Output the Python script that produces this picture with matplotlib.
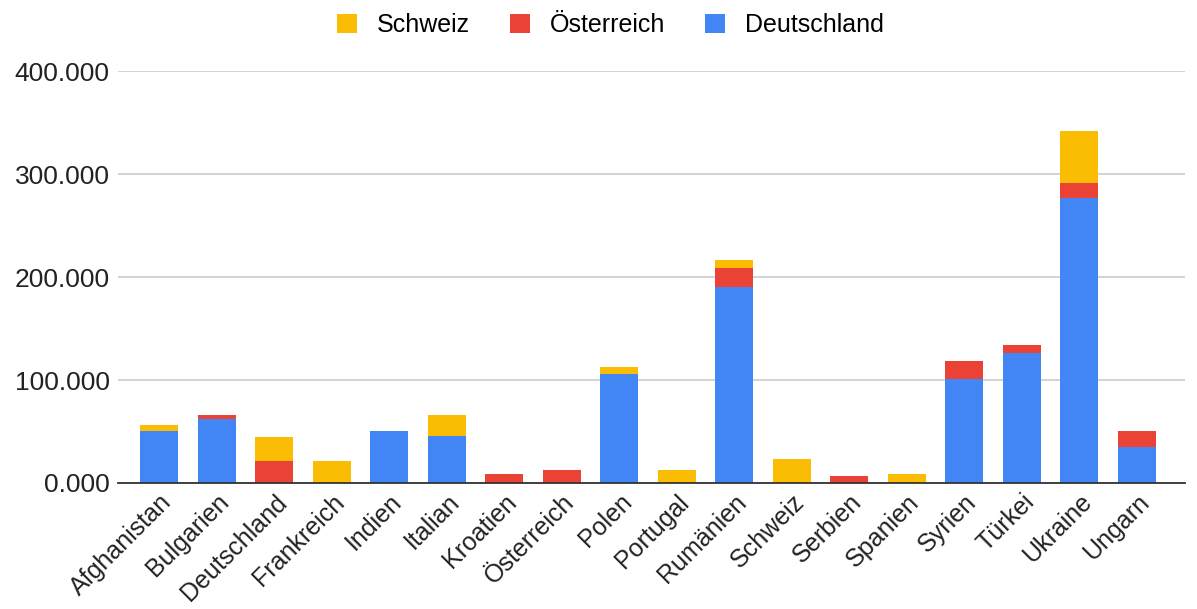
import matplotlib
matplotlib.use("Agg")
import matplotlib.pyplot as plt
import numpy as np
from matplotlib.patches import Patch

plt.rcParams["font.family"] = ["Liberation Sans", "DejaVu Sans"]

# Daten (in Tausend)
laender = [
    "Afghanistan", "Bulgarien", "Deutschland", "Frankreich", "Indien",
    "Italian", "Kroatien", "Österreich", "Polen", "Portugal", "Rumänien",
    "Schweiz", "Serbien", "Spanien", "Syrien", "Türkei", "Ukraine", "Ungarn",
]
deutschland = [50, 62, 0, 0, 50, 46, 0, 0, 106, 0, 190, 0, 0, 0, 101, 126, 277, 35]
oesterreich = [0, 4, 21, 0, 0, 0, 9, 13, 0, 0, 19, 0, 7, 0, 17, 8, 14, 15]
schweiz = [6, 0, 24, 21, 0, 20, 0, 0, 7, 13, 8, 23, 0, 9, 0, 0, 51, 0]

farbe_d = "#4285F4"
farbe_o = "#EA4335"
farbe_s = "#FBBC04"

d = np.array(deutschland) * 1000
o = np.array(oesterreich) * 1000
s = np.array(schweiz) * 1000
x = np.arange(len(laender))

fig = plt.figure(figsize=(11.97, 6.09), dpi=100)
ax = fig.add_axes([0.0986, 0.207, 0.891, 0.676])

breite = 0.66
ax.bar(x, d, width=breite, color=farbe_d, zorder=3)
ax.bar(x, o, width=breite, bottom=d, color=farbe_o, zorder=3)
ax.bar(x, s, width=breite, bottom=d + o, color=farbe_s, zorder=3)

ax.set_ylim(0, 400000)
ax.set_xlim(-0.72, len(laender) - 1 + 0.83)
ax.set_yticks([0, 100000, 200000, 300000, 400000])
ax.set_yticklabels(["0.000", "100.000", "200.000", "300.000", "400.000"])
ax.yaxis.grid(True, color="#cccccc", linewidth=1.2, zorder=0)
ax.set_axisbelow(True)

for side in ["top", "right", "left"]:
    ax.spines[side].set_visible(False)
ax.spines["bottom"].set_color("#333333")
ax.spines["bottom"].set_linewidth(1.3)
ax.spines["bottom"].set_zorder(4)

ax.tick_params(axis="y", length=0, labelsize=19, pad=6, colors="#222222")
ax.tick_params(axis="x", length=0, labelsize=18, pad=5, colors="#222222")
ax.set_xticks(x)
ax.set_xticklabels(laender, rotation=45, ha="right", rotation_mode="anchor")

handles = [
    Patch(facecolor=farbe_s, label="Schweiz"),
    Patch(facecolor=farbe_o, label="Österreich"),
    Patch(facecolor=farbe_d, label="Deutschland"),
]
fig.legend(
    handles=handles,
    loc="upper center",
    bbox_to_anchor=(0.51, 1.015),
    ncol=3,
    frameon=False,
    fontsize=18,
    handlelength=0.8,
    handleheight=0.8,
    handletextpad=0.8,
    columnspacing=1.6,
)

plt.savefig("out.png", dpi=100)
